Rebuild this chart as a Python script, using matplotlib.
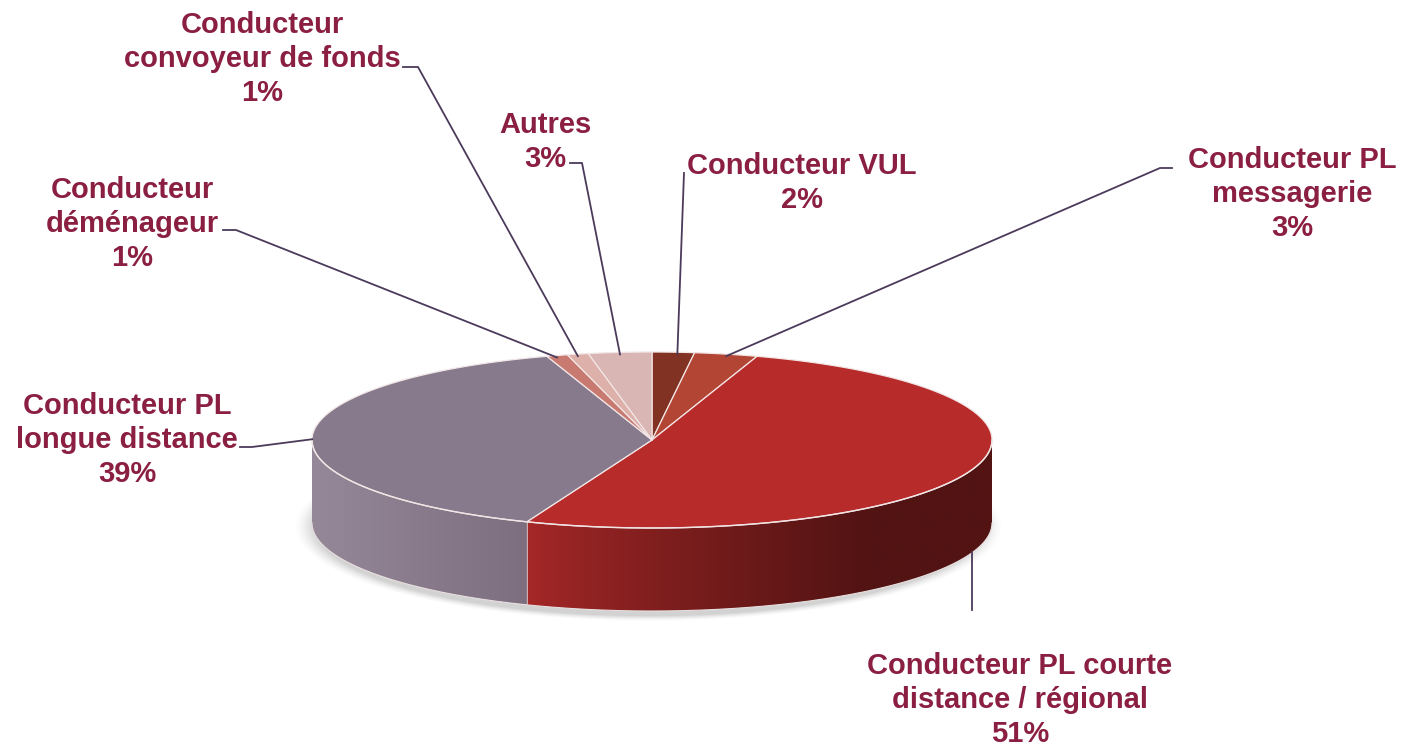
import numpy as np
import matplotlib
matplotlib.use("Agg")
import matplotlib.pyplot as plt
from matplotlib.patches import Polygon
from matplotlib.colors import to_rgb

# ---- data ----
categories = ["Conducteur VUL", "Conducteur PL\nmessagerie",
              "Conducteur PL courte\ndistance / régional",
              "Conducteur PL\nlongue distance", "Conducteur\ndéménageur",
              "Conducteur\nconvoyeur de fonds", "Autres"]
values = [2, 3, 51, 39, 1, 1, 3]
pct_labels = ["2%", "3%", "51%", "39%", "1%", "1%", "3%"]

# ---- style / layout ----
colors = ["#823222", "#B34535", "#B82B2B", "#877A8C", "#C87A70", "#DDB0AA", "#D9B5B3"]
label_pos = [(802, 183), (1292, 194), (1020, 700), (127, 440), (132, 224), (262, 59), (545, 142)]
elbow = [None, (1172, 1160, 168), None, (240, 252, 447), (223, 236, 230),
         (403, 418, 67), (570, 582, 163)]
text_color = "#8B1F42"
line_color = "#4B3A5A"

W, H = 1407, 745
fig = plt.figure(figsize=(W / 100, H / 100), dpi=100)
ax = fig.add_axes([0, 0, 1, 1])
ax.set_xlim(0, W)
ax.set_ylim(H, 0)
ax.axis("off")

cx, cy, rx, ry, depth = 652, 440, 340, 88, 83


def P(t):
    r = np.radians(t)
    return cx + rx * np.sin(r), cy - ry * np.cos(r)


total = float(sum(values))
bounds = np.concatenate([[0], np.cumsum(values)]) / total * 360.0

# shadow
yy, xx = np.mgrid[0:H, 0:W]
d = ((xx - (cx - 4)) / (rx + 4)) ** 2 + ((yy - (cy + depth + 3)) / (ry + 4)) ** 2
sh = np.clip((1.06 - d) / 0.12, 0, 1) ** 1.5
shadow = np.zeros((H, W, 4))
shadow[..., :3] = 0.5
shadow[..., 3] = sh * 0.35
ax.imshow(shadow, extent=(0, W, H, 0), zorder=1, interpolation="bilinear")


def side_grad(i, x):
    if i == 2:
        c1, c2 = np.array(to_rgb("#A82828")), np.array(to_rgb("#521313"))
        f = np.clip((x - 525) / (870 - 525), 0, 1) ** 0.8
    else:
        c1, c2 = np.array(to_rgb("#958898")), np.array(to_rgb("#7D6E80"))
        f = np.clip((x - 312) / (525 - 312), 0, 1)
    return c1[None, :] * (1 - f[:, None]) + c2[None, :] * f[:, None]


# sides (front half only)
for i in range(len(values)):
    a, b = bounds[i], bounds[i + 1]
    lo, hi = max(a, 90), min(b, 270)
    if hi <= lo:
        continue
    ts = np.linspace(lo, hi, 200)
    xs, ys = P(ts)
    pts = np.vstack([np.column_stack([xs, ys]), np.column_stack([xs[::-1], ys[::-1] + depth])])
    poly = Polygon(pts, closed=True, facecolor="none", edgecolor="none", zorder=2)
    ax.add_patch(poly)
    x0, x1 = xs.min() - 2, xs.max() + 2
    gx = np.linspace(x0, x1, 400)
    img = np.tile(side_grad(i, gx)[None, :, :], (10, 1, 1))
    im = ax.imshow(img, extent=(x0, x1, ys.max() + depth + 2, ys.min() - 2),
                   aspect="auto", zorder=2, interpolation="bilinear")
    im.set_clip_path(poly)
    ax.plot(xs, ys + depth, color="#E8E0E0", lw=0.8, zorder=3)

# front seam between slices on side
for bnd in bounds[1:-1]:
    if 90 < bnd < 270:
        x, y = P(bnd)
        ax.plot([x, x], [y, y + depth], color="#D8C8C8", lw=0.6, zorder=3)

# tops
for i in range(len(values)):
    a, b = bounds[i], bounds[i + 1]
    ts = np.linspace(a, b, max(int((b - a) * 2), 10))
    xs, ys = P(ts)
    pts = np.vstack([[cx, cy], np.column_stack([xs, ys])])
    ax.add_patch(Polygon(pts, closed=True, facecolor=colors[i], edgecolor="#F2E6E6",
                         lw=0.9, joinstyle="round", zorder=4))

# top front rim highlight
ts = np.linspace(90, 270, 300)
xs, ys = P(ts)
ax.plot(xs, ys, color="#F0E4E4", lw=1.0, zorder=5)

# labels & leader lines
for i in range(len(values)):
    mid = (bounds[i] + bounds[i + 1]) / 2
    x, y = P(mid)
    if 90 < mid < 270:
        y += depth
    lx, ly = label_pos[i]
    if elbow[i] is None:
        if i == 0:
            ax.plot([x + 4, 684], [y + 2, 173], color=line_color, lw=1.3, zorder=6)
        else:
            ax.plot([x, x], [y - 1, 610], color=line_color, lw=1.3, zorder=6)
    else:
        ex0, ex1, ey = elbow[i]
        ax.plot([ex0, ex1, x], [ey, ey, y + 2], color=line_color, lw=1.3, zorder=6)
    ax.text(lx, ly, categories[i] + "\n" + pct_labels[i], ha="center", va="center",
            fontsize=21, fontweight="bold", family="Liberation Sans",
            color=text_color, linespacing=1.26, zorder=7)

fig.savefig("out.png", dpi=100)
